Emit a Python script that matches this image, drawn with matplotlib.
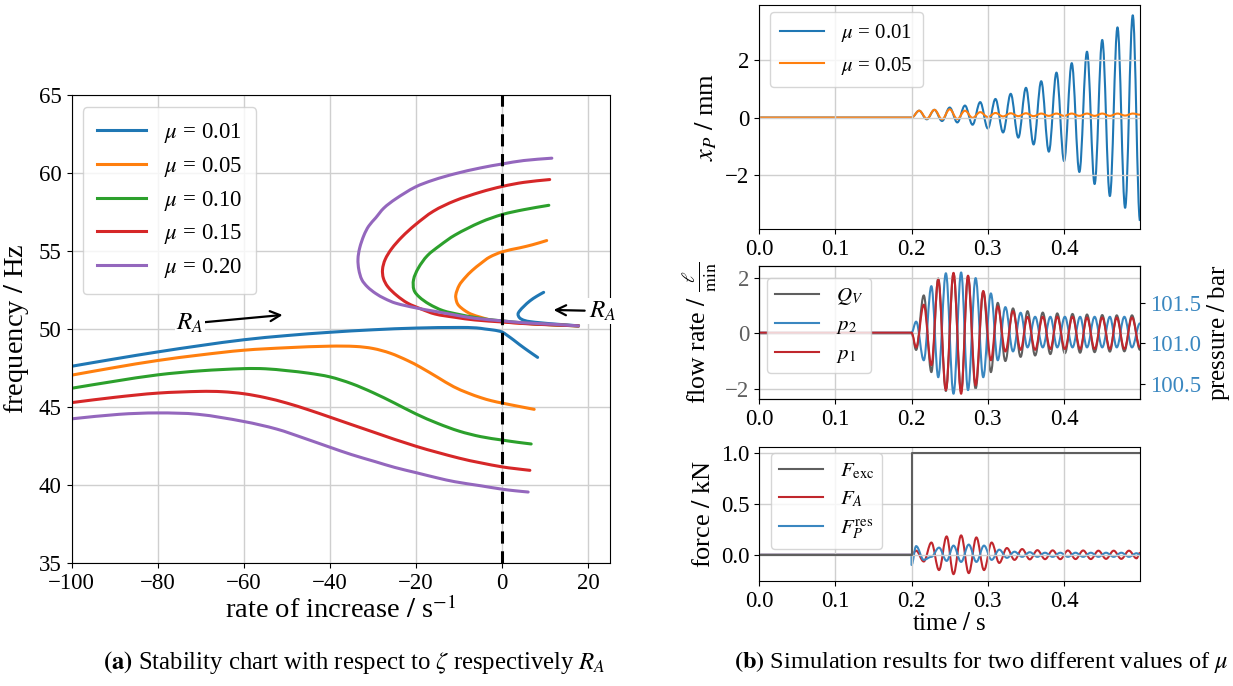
import matplotlib
matplotlib.use("Agg")
import matplotlib.pyplot as plt
from matplotlib.path import Path
from matplotlib.patches import PathPatch
from matplotlib.lines import Line2D
import math

plt.rcParams['font.family'] = ['Liberation Serif', 'DejaVu Serif']
plt.rcParams['mathtext.fontset'] = 'stix'
plt.rcParams['font.size'] = 16
plt.rcParams['axes.unicode_minus'] = True

# ---------------- (a) stability chart ----------------
mu_labels = ['0.01', '0.05', '0.10', '0.15', '0.20']
mu_colors = ['tab:blue', 'tab:orange', 'tab:green', 'tab:red', 'tab:purple']

low_x_001 = [-100, -90, -80, -70, -60, -50, -40, -30, -20, -10, -6, -4, -2, -1, 0, 1, 2.6, 4, 6, 8.2]
low_y_001 = [47.61, 48.08, 48.53, 48.94, 49.31, 49.58, 49.79, 49.95, 50.06, 50.1, 50.07, 50.0, 49.93, 49.88, 49.8, 49.62, 49.3, 49.0, 48.6, 48.18]
up_x_001 = [9.6, 8, 6.4, 5, 4, 3.65, 4.0, 5, 6.5, 8.8, 12, 15, 17.7]
up_y_001 = [52.35, 52.1, 51.8, 51.45, 51.15, 50.95, 50.72, 50.56, 50.47, 50.4, 50.32, 50.26, 50.2]

low_x_005 = [-100, -90, -80, -70, -60, -50, -40, -34, -30, -26, -22, -19, -15, -11.3, -8, -5, -2.5, 0, 4, 7.4]
low_y_005 = [47.04, 47.53, 47.98, 48.34, 48.64, 48.8, 48.9, 48.88, 48.75, 48.45, 47.98, 47.55, 46.9, 46.3, 45.9, 45.6, 45.4, 45.25, 45.03, 44.85]
up_x_005 = [10.3, 7, 4, 0, -3, -5, -7, -8.7, -10, -10.8, -10.6, -10.1, -8.8, -7.3, -5, -2.75, 0, 4, 8, 12, 17.7]
up_y_005 = [55.67, 55.4, 55.2, 54.95, 54.6, 54.2, 53.75, 53.27, 52.8, 52.17, 51.75, 51.5, 51.2, 50.96, 50.75, 50.58, 50.47, 50.38, 50.32, 50.27, 50.2]

low_x_010 = [-100, -90, -80, -70, -60, -55, -50, -45, -40, -35, -30, -25, -20, -15, -10, -5, 0, 3.5, 6.7]
low_y_010 = [46.2, 46.65, 47.06, 47.32, 47.46, 47.45, 47.33, 47.17, 46.93, 46.5, 45.92, 45.25, 44.55, 43.95, 43.45, 43.1, 42.88, 42.74, 42.63]
up_x_010 = [10.8, 5, 0, -5, -11, -14.5, -17.4, -19.5, -20.6, -20.5, -19.3, -17, -13.8, -10, -6.4, -3, 0, 5, 10, 17.7]
up_y_010 = [57.93, 57.65, 57.34, 56.85, 56.02, 55.35, 54.7, 53.9, 53.16, 52.5, 52.06, 51.6, 51.18, 50.93, 50.74, 50.6, 50.52, 50.38, 50.29, 50.2]

low_x_015 = [-100, -90, -80, -70, -65, -60, -55, -50, -45, -40, -30, -20, -10, -5, 0, 3, 6.4]
low_y_015 = [45.28, 45.62, 45.89, 46.0, 45.98, 45.85, 45.6, 45.25, 44.82, 44.35, 43.4, 42.48, 41.72, 41.42, 41.16, 41.05, 40.94]
up_x_015 = [11, 5, 0, -5, -11, -16, -20.2, -23.3, -25.7, -27.2, -27.8, -27.6, -26.6, -24.5, -22, -19, -15.6, -11, -6.4, 0, 5, 10, 17.7]
up_y_015 = [59.58, 59.4, 59.14, 58.78, 58.22, 57.55, 56.68, 55.9, 55.14, 54.45, 53.82, 53.25, 52.72, 52.15, 51.66, 51.3, 50.96, 50.75, 50.58, 50.45, 50.35, 50.28, 50.2]

low_x_020 = [-100, -89, -80, -70.6, -60, -52.3, -46, -40, -35, -29.4, -25, -20, -15, -11, -5, 0, 3, 6]
low_y_020 = [44.24, 44.53, 44.62, 44.53, 44.07, 43.58, 43.0, 42.42, 41.95, 41.49, 41.13, 40.79, 40.45, 40.21, 39.95, 39.73, 39.63, 39.55]
up_x_020 = [11.5, 5, 0, -5, -11, -16, -20.2, -24.8, -27.5, -29.4, -31, -32.1, -33.1, -33.5, -33.3, -32.6, -31.3, -29.4, -27.3, -24.8, -20, -15.6, -11, -6.4, 0, 5, 11.9, 17.7]
up_y_020 = [60.95, 60.8, 60.58, 60.33, 59.95, 59.55, 59.1, 58.33, 57.75, 57.12, 56.6, 56.02, 55.2, 54.48, 53.8, 53.16, 52.7, 52.28, 51.95, 51.66, 51.35, 51.13, 50.9, 50.69, 50.52, 50.4, 50.3, 50.2]

lower_x = [low_x_001, low_x_005, low_x_010, low_x_015, low_x_020]
lower_y = [low_y_001, low_y_005, low_y_010, low_y_015, low_y_020]
upper_x = [up_x_001, up_x_005, up_x_010, up_x_015, up_x_020]
upper_y = [up_y_001, up_y_005, up_y_010, up_y_015, up_y_020]

t_xp = [0.0, 0.2, 0.21, 0.22, 0.23, 0.24, 0.25, 0.26, 0.27, 0.28, 0.29, 0.30, 0.31, 0.32, 0.33, 0.34,
        0.35, 0.36, 0.37, 0.38, 0.39, 0.40, 0.41, 0.42, 0.43, 0.44, 0.45, 0.46, 0.47, 0.48, 0.49, 0.4995]
xp_mu001 = [0.0, 0.0, 0.24, -0.06, 0.27, -0.12, 0.35, -0.17, 0.42, -0.25, 0.54, -0.38, 0.65, -0.52, 0.83, -0.70,
            1.04, -0.94, 1.27, -1.19, 1.57, -1.52, 1.90, -1.90, 2.30, -2.32, 2.71, -2.74, 3.15, -3.15, 3.57, -3.6]
xp_mu005 = [0.0, 0.0, 0.24, -0.04, 0.27, -0.06, 0.29, -0.05, 0.24, -0.01, 0.19, 0.02, 0.16, 0.04, 0.15, 0.05,
            0.15, 0.05, 0.14, 0.06, 0.14, 0.06, 0.14, 0.06, 0.14, 0.06, 0.14, 0.06, 0.14, 0.07, 0.14, 0.1]

t_flow = [0.0, 0.2, 0.206, 0.216, 0.226, 0.235, 0.245, 0.255, 0.265, 0.274, 0.284, 0.294, 0.304, 0.313,
          0.323, 0.333, 0.343, 0.352, 0.362, 0.372, 0.382, 0.391, 0.401, 0.411, 0.421, 0.430, 0.440, 0.450,
          0.460, 0.469, 0.479, 0.489, 0.4995]
q_v = [0.0, 0.0, -0.6, 1.37, -1.4, 1.98, -2.08, 2.15, -2.1, 2.05, -2.0, 1.5, -1.4, 1.1, -1.0, 0.9, -0.85,
       0.8, -0.8, 0.75, -0.75, 0.72, -0.72, 0.7, -0.7, 0.68, -0.68, 0.66, -0.66, 0.65, -0.65, 0.65, -0.6]
p_1 = [101.133, 101.133, 100.95, 101.48, 100.73, 101.79, 100.42, 101.875, 100.375, 101.84, 100.48, 101.65,
       100.79, 101.46, 100.9, 101.40, 100.92, 101.33, 100.92, 101.33, 100.93, 101.33, 100.93, 101.33, 100.93,
       101.32, 100.93, 101.32, 100.93, 101.32, 100.93, 101.32, 100.95]
p_2 = [101.133, 101.133, 101.27, 100.79, 101.71, 100.58, 101.87, 100.375, 101.88, 100.42, 101.81, 100.58,
       101.62, 100.79, 101.45, 100.9, 101.38, 100.95, 101.33, 100.95, 101.33, 100.95, 101.33, 100.95, 101.33,
       100.95, 101.33, 100.95, 101.33, 100.95, 101.33, 100.95, 101.25]

f_exc_t = [0.0, 0.2, 0.2, 0.4995]
f_exc = [0.0, 0.0, 1.0, 1.0]
t_fa = [0.0, 0.2, 0.206, 0.216, 0.226, 0.236, 0.246, 0.255, 0.265, 0.275, 0.285, 0.295, 0.305, 0.315, 0.325,
        0.335, 0.345, 0.355, 0.365, 0.375, 0.385, 0.395, 0.405, 0.415, 0.425, 0.435, 0.445, 0.455, 0.465,
        0.475, 0.485, 0.495, 0.4995]
f_a = [0.0, 0.0, 0.04, -0.066, 0.12, -0.15, 0.18, -0.19, 0.19, -0.18, 0.17, -0.15, 0.12, -0.08, 0.066, -0.05,
       0.056, -0.045, 0.045, -0.043, 0.043, -0.043, 0.042, -0.042, 0.042, -0.042, 0.04, -0.04, 0.04, -0.04,
       0.04, -0.035, 0.02]
t_fp = [0.0, 0.2, 0.2, 0.206, 0.216, 0.226, 0.236, 0.246, 0.255, 0.265, 0.275, 0.285, 0.295, 0.305, 0.315,
        0.325, 0.335, 0.345, 0.355, 0.365, 0.375, 0.385, 0.395, 0.405, 0.415, 0.425, 0.435, 0.445, 0.455,
        0.465, 0.475, 0.485, 0.495, 0.4995]
f_p = [0.0, 0.0, -0.1, 0.085, -0.05, -0.02, 0.07, -0.06, 0.09, -0.07, 0.1, -0.07, 0.09, -0.05, 0.05, -0.03,
       0.03, -0.02, 0.025, -0.02, 0.02, -0.02, 0.02, -0.02, 0.02, -0.02, 0.02, -0.02, 0.02, -0.02, 0.02,
       -0.02, 0.015, 0.0]

GRAY = '#5f5f5f'
BLUE = '#3a87c0'
RED = '#c0272d'
GRID = '#cfcfcf'

W, H = 1233, 686
fig = plt.figure(figsize=(W / 100, H / 100), dpi=100)


def box(x0, y0, x1, y1):
    return [x0 / W, 1 - y1 / H, (x1 - x0) / W, (y1 - y0) / H]


def smooth_curve(ax, xs, ys, color, lw, sx=1.0, sy=1.0):
    # bezier through the read points, tangents taken in screen-like units
    pts = [(x * sx, y * sy) for x, y in zip(xs, ys)]
    n = len(pts)
    tang = []
    for i in range(n):
        a = pts[max(i - 1, 0)]
        b = pts[min(i + 1, n - 1)]
        dx, dy = b[0] - a[0], b[1] - a[1]
        d = math.hypot(dx, dy) or 1.0
        tang.append((dx / d, dy / d))
    verts = [pts[0]]
    codes = [Path.MOVETO]
    for i in range(1, n):
        p0, p1 = pts[i - 1], pts[i]
        L = math.hypot(p1[0] - p0[0], p1[1] - p0[1]) / 3.0
        verts += [(p0[0] + tang[i - 1][0] * L, p0[1] + tang[i - 1][1] * L),
                  (p1[0] - tang[i][0] * L, p1[1] - tang[i][1] * L), p1]
        codes += [Path.CURVE4] * 3
    verts = [(x / sx, y / sy) for x, y in verts]
    ax.add_patch(PathPatch(Path(verts, codes), facecolor='none', edgecolor=color, lw=lw,
                           capstyle='round', joinstyle='round'))


def wave(ax, ts, vs, color, lw=1.5):
    # extrema joined by bezier segments with flat tangents at each peak / trough
    verts = [(ts[0], vs[0])]
    codes = [Path.MOVETO]
    for i in range(1, len(ts)):
        dt = ts[i] - ts[i - 1]
        verts += [(ts[i - 1] + 0.364 * dt, vs[i - 1]), (ts[i] - 0.364 * dt, vs[i]), (ts[i], vs[i])]
        codes += [Path.CURVE4] * 3
    ax.add_patch(PathPatch(Path(verts, codes), facecolor='none', edgecolor=color, lw=lw,
                           joinstyle='round'))
    return Line2D([], [], color=color, lw=lw)


# ---- left chart
ax = fig.add_axes(box(71.5, 95, 610, 563))
handles = []
for i in range(5):
    smooth_curve(ax, lower_x[i], lower_y[i], mu_colors[i], 2.2, sx=4.3, sy=15.6)
    smooth_curve(ax, upper_x[i], upper_y[i], mu_colors[i], 2.2, sx=4.3, sy=15.6)
    handles.append(Line2D([], [], color=mu_colors[i], lw=2.2))
ax.axvline(0, color='k', ls='--', lw=2.2, dashes=(4, 2.5))
ax.set_xlim(-100, 25)
ax.set_ylim(35, 65)
ax.set_xticks([-100, -80, -60, -40, -20, 0, 20])
ax.set_yticks([35, 40, 45, 50, 55, 60, 65])
ax.grid(True, color=GRID, lw=1)
ax.set_axisbelow(True)
ax.set_xlabel(r'rate of increase $/$ s$^{-1}$', fontsize=20.5, labelpad=2)
ax.set_ylabel(r'frequency $/$ Hz', fontsize=20.5, labelpad=6)
ax.tick_params(labelsize=16.5)
ax.legend(handles, [r'$\mu$ = ' + m for m in mu_labels], loc='upper left', fontsize=16.5, borderpad=0.6,
          labelspacing=0.43, handlelength=2.15, borderaxespad=0, bbox_to_anchor=(0.021, 0.974))
ax.annotate(r'$R_A$', xy=(-51, 50.9), xytext=(-72.5, 50.35), fontsize=18, ha='center', va='center',
            bbox=dict(facecolor='white', edgecolor='none', pad=1),
            arrowprops=dict(arrowstyle='->', color='k', lw=1.6, shrinkA=0, shrinkB=0, mutation_scale=18))
ax.annotate(r'$R_A$', xy=(11.9, 51.22), xytext=(23.3, 51.15), fontsize=18, ha='center', va='center',
            annotation_clip=False, zorder=10,
            bbox=dict(facecolor='white', edgecolor='none', pad=1),
            arrowprops=dict(arrowstyle='->', color='k', lw=1.6, shrinkA=2, shrinkB=0, mutation_scale=18))

RX0, RX1 = 759, 1140
TICKS_T = [0.0, 0.1, 0.2, 0.3, 0.4]

# ---- right: x_P
ax1 = fig.add_axes(box(RX0, 5, RX1, 229))
h1 = wave(ax1, t_xp, xp_mu001, 'tab:blue')
h2 = wave(ax1, t_xp, xp_mu005, 'tab:orange')
ax1.set_xlim(0, 0.4995)
ax1.set_ylim(-3.89, 3.93)
ax1.set_xticks(TICKS_T)
ax1.set_yticks([-2, 0, 2])
ax1.grid(True, color=GRID, lw=1)
ax1.set_ylabel(r'$x_P$ $/$ mm', fontsize=19)
ax1.legend([h1, h2], [r'$\mu$ = 0.01', r'$\mu$ = 0.05'], loc='upper left', fontsize=15,
           borderpad=0.5, handlelength=2.1, borderaxespad=0, bbox_to_anchor=(0.029, 0.969))

# ---- right: flow / pressure
ax2 = fig.add_axes(box(RX0, 266, RX1, 399))
hq = wave(ax2, t_flow, q_v, GRAY)
ax2.set_xlim(0, 0.4995)
ax2.set_ylim(-2.37, 2.43)
ax2.set_xticks(TICKS_T)
ax2.set_yticks([-2, 0, 2])
ax2.tick_params(axis='y', labelcolor=GRAY)
ax2.grid(True, color=GRID, lw=1)
ax2.set_ylabel(r'flow rate $/$ $\frac{\ell}{\mathrm{min}}$', fontsize=18.5)
ax2b = ax2.twinx()
hp2 = wave(ax2b, t_flow, p_2, BLUE)
hp1 = wave(ax2b, t_flow, p_1, RED)
ax2b.set_ylim(100.31, 101.96)
ax2b.set_yticks([100.5, 101.0, 101.5])
ax2b.set_yticklabels(['100.5', '101.0', '101.5'])
ax2b.tick_params(axis='y', labelcolor=BLUE)
ax2b.set_ylabel(r'pressure $/$ bar', fontsize=18, labelpad=3)
ax2b.legend([hq, hp2, hp1], [r'$Q_V$', r'$p_2$', r'$p_1$'], loc='upper left', fontsize=15,
            borderpad=0.4, labelspacing=0.4, handlelength=2.1, borderaxespad=0,
            bbox_to_anchor=(0.021, 0.91))

# ---- right: forces
ax3 = fig.add_axes(box(RX0, 447, RX1, 581))
ax3.plot(f_exc_t, f_exc, color=GRAY, lw=1.5)
hfe = Line2D([], [], color=GRAY, lw=1.5)
hfa = wave(ax3, t_fa, f_a, RED)
hfp = wave(ax3, t_fp, f_p, BLUE)
ax3.set_xlim(0, 0.4995)
ax3.set_ylim(-0.257, 1.056)
ax3.set_xticks(TICKS_T)
ax3.set_yticks([0.0, 0.5, 1.0])
ax3.grid(True, color=GRID, lw=1)
ax3.set_ylabel(r'force $/$ kN', fontsize=19)
ax3.set_xlabel(r'time $/$ s', fontsize=18, labelpad=1)
ax3.legend([hfe, hfa, hfp], [r'$F_\mathrm{exc}$', r'$F_A$', r'$F_P^\mathrm{res}$'], loc='upper left',
           fontsize=15, borderpad=0.4, labelspacing=0.4, handlelength=2.1, borderaxespad=0,
           bbox_to_anchor=(0.031, 0.955))

for a in (ax1, ax2, ax2b, ax3):
    a.tick_params(labelsize=16.5)

# ---- captions
fig.text(354 / W, 1 - 662 / H, r'$\mathbf{(a)}$ Stability chart with respect to $\zeta$ respectively $R_A$',
         ha='center', va='center', fontsize=17.8)
fig.text(981 / W, 1 - 662 / H, r'$\mathbf{(b)}$ Simulation results for two different values of $\mu$',
         ha='center', va='center', fontsize=17.6)

fig.savefig('out.png', dpi=100)
